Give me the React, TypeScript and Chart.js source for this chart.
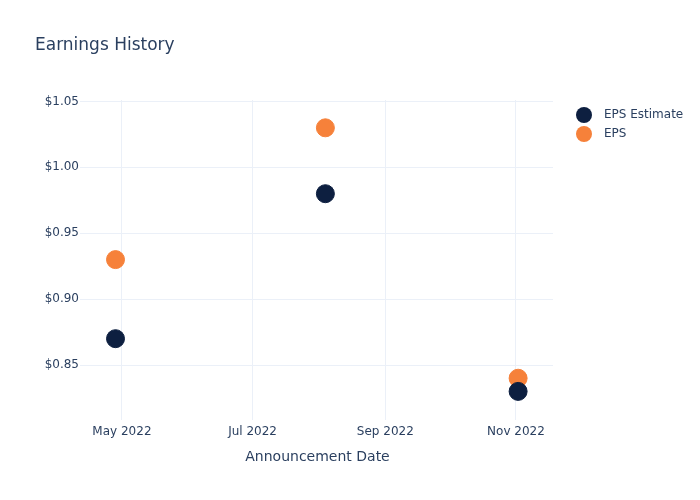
import React, { useEffect, useRef } from "react";
import { Chart, registerables } from "chart.js";

Chart.register(...registerables);

const announcementDates: string[] = ["2022-04-28", "2022-08-04", "2022-11-02"];
const epsEstimate: number[] = [0.87, 0.98, 0.83];
const epsActual: number[] = [0.93, 1.03, 0.84];
const xTickDates: string[] = ["2022-05-01", "2022-07-01", "2022-09-01", "2022-11-01"];
const yTickValues: number[] = [0.85, 0.9, 0.95, 1.0, 1.05];
const seriesNames: string[] = ["EPS Estimate", "EPS"];
const seriesColors: string[] = ["#0d1f40", "#f6813a"];
const chartTitle = "Earnings History";
const xAxisTitle = "Announcement Date";

const MONTHS = ["Jan", "Feb", "Mar", "Apr", "May", "Jun", "Jul", "Aug", "Sep", "Oct", "Nov", "Dec"];
const toMs = (s: string) => Date.parse(s + "T00:00:00Z");

const FONT = "'DejaVu Sans', Verdana, sans-serif";
const TEXT = "#2a3f5f";
const GRID = "#ebf0f8";

export default function App() {
  const ref = useRef<HTMLCanvasElement | null>(null);

  useEffect(() => {
    document.body.style.margin = "0";
    const canvas = ref.current;
    if (!canvas) return;

    const overlay = {
      id: "overlay",
      afterDraw(chart: any) {
        const ctx = chart.ctx;
        const ca = chart.chartArea;
        ctx.save();
        ctx.fillStyle = TEXT;
        ctx.textBaseline = "middle";
        ctx.textAlign = "left";
        ctx.font = `17px ${FONT}`;
        ctx.fillText(chartTitle, 35, 46);
        ctx.textAlign = "center";
        ctx.font = `14px ${FONT}`;
        ctx.fillText(xAxisTitle, (ca.left + ca.right) / 2 + 1, 457);
        ctx.textAlign = "left";
        ctx.font = `12px ${FONT}`;
        chart.data.datasets.forEach((ds: any, i: number) => {
          const y = 115 + i * 19;
          ctx.beginPath();
          ctx.fillStyle = ds.backgroundColor;
          ctx.arc(584, y, 8, 0, Math.PI * 2);
          ctx.fill();
          ctx.fillStyle = TEXT;
          ctx.fillText(ds.label, 604, y);
        });
        ctx.restore();
      },
    };

    const chart = new Chart(canvas, {
      type: "scatter",
      data: {
        datasets: [
          {
            label: seriesNames[0],
            data: announcementDates.map((d, i) => ({ x: toMs(d), y: epsEstimate[i] })),
            backgroundColor: seriesColors[0],
            borderColor: seriesColors[0],
            pointRadius: 9,
            borderWidth: 1,
          },
          {
            label: seriesNames[1],
            data: announcementDates.map((d, i) => ({ x: toMs(d), y: epsActual[i] })),
            backgroundColor: seriesColors[1],
            borderColor: seriesColors[1],
            pointRadius: 9,
            borderWidth: 1,
          },
        ],
      },
      options: {
        animation: false,
        responsive: false,
        devicePixelRatio: 1,
        layout: { padding: { top: 100, right: 147, left: 0, bottom: 0 } },
        plugins: { legend: { display: false }, tooltip: { enabled: false }, title: { display: false } },
        scales: {
          x: {
            type: "linear",
            min: toMs("2022-04-11") + 10 * 3600000,
            max: toMs("2022-11-18") + 7 * 3600000,
            afterBuildTicks: (scale: any) => {
              scale.ticks = xTickDates.map((d) => ({ value: toMs(d) }));
            },
            afterFit: (scale: any) => {
              scale.height = 80;
            },
            grid: { color: GRID, lineWidth: 1, drawTicks: false },
            border: { display: false },
            ticks: {
              padding: 5,
              color: TEXT,
              font: { family: FONT, size: 12 },
              maxRotation: 0,
              autoSkip: false,
              callback: (v: any) => {
                const d = new Date(Number(v));
                return `${MONTHS[d.getUTCMonth()]} ${d.getUTCFullYear()}`;
              },
            },
          },
          y: {
            min: 0.8083,
            max: 1.0511,
            afterBuildTicks: (scale: any) => {
              scale.ticks = yTickValues.map((v) => ({ value: v }));
            },
            afterFit: (scale: any) => {
              scale.width = 80;
            },
            grid: { color: GRID, lineWidth: 1, drawTicks: false },
            border: { display: false },
            ticks: {
              padding: 1,
              color: TEXT,
              font: { family: FONT, size: 12 },
              callback: (v: any) => "$" + Number(v).toFixed(2),
            },
          },
        },
      },
      plugins: [overlay],
    } as any);

    return () => chart.destroy();
  }, []);

  return (
    <div style={{ width: 700, height: 500, background: "#fff" }}>
      <canvas ref={ref} width={700} height={500} />
    </div>
  );
}
